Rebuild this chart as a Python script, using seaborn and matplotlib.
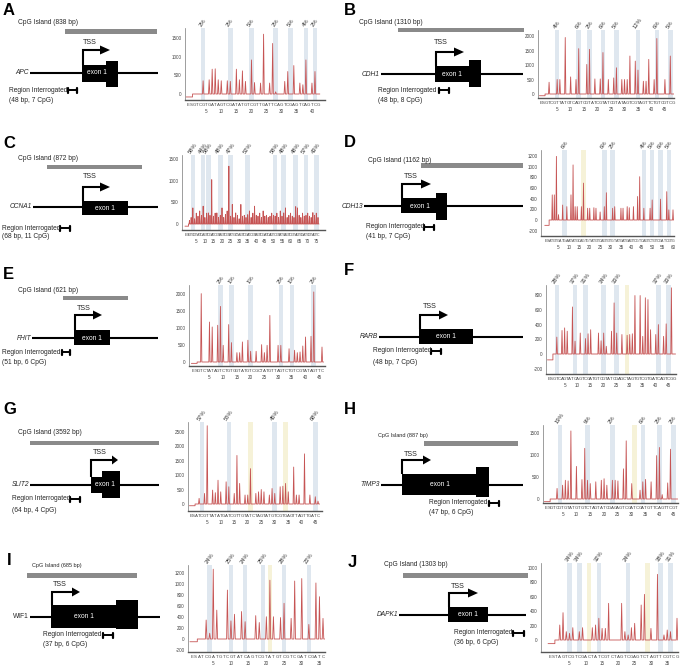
import numpy as np
import pandas as pd
import matplotlib
matplotlib.use("Agg")
import matplotlib.pyplot as plt
import matplotlib.transforms as mtrans
from matplotlib.patches import Rectangle, Polygon
import seaborn as sns

sns.set_style("white")
plt.rcParams["font.family"] = ["Liberation Sans", "DejaVu Sans"]

# ---------------- data ----------------
LETTERS = ["A", "B", "C", "D", "E", "F", "G", "H", "I", "J"]
GENES = ["APC", "CDH1", "CCNA1", "CDH13", "FHIT", "RARB", "SLIT2", "TIMP3", "WIF1", "DAPK1"]
GENE_ITALIC = [True, True, True, True, True, True, True, True, False, True]
CPG_BP = [838, 1310, 872, 1162, 621, None, 3592, 887, 685, 1303]
REGION_BP = [48, 48, 68, 41, 51, 48, 64, 47, 37, 36]
REGION_CPG = [7, 8, 11, 7, 6, 7, 4, 6, 6, 6]

A_SEQ = "ESGTCGTGAT" "AGTCGATATG" "TCGTTGATTC" "AGTCGAGTCA" "GTCG"
A_PEAKS = {5: 357, 7: 384, 8: 670, 9: 680, 10: 384, 11: 357, 13: 357, 14: 340, 16: 670,
           17: 384, 18: 625, 19: 340, 21: 920, 22: 310, 24: 295, 25: 1615, 27: 295,
           28: 1365, 29: 60, 32: 340, 33: 607, 35: 768, 37: 295, 38: 250, 39: 920,
           41: 295, 42: 607}
A_CPG = [5, 14, 21, 29, 34, 39, 42]
A_PCT = ["2%", "2%", "5%", "2%", "5%", "4%", "2%"]
A_YEL = []

B_SEQ = "ESGTCGTTAT" "GTCAGTCGTA" "TCGTATCGTA" "TAGTCGTAGT" "TCTGTCGTCG"
B_PEAKS = {3: 405, 6: 500, 7: 500, 9: 1950, 11: 590, 13: 500, 14: 1565, 17: 1020, 18: 1540,
           20: 520, 22: 520, 23: 1430, 25: 500, 27: 555, 28: 905, 30: 500, 31: 500, 32: 500,
           33: 1310, 35: 1135, 36: 825, 38: 440, 39: 440, 40: 1195, 42: 500, 43: 1915,
           46: 500, 48: 1310}
B_CPG = [6, 14, 18, 23, 28, 36, 43, 48]
B_PCT = ["4%", "6%", "2%", "6%", "5%", "12%", "6%", "5%"]
B_YEL = []

C_SEQ = "ESGTCGTATC" "AGTCGATCGT" "AGTCGTATGC" "TAGTCGATCG" "TAGTCGATCA" "GTCGTATCAG" "TCGTAGTCGA" "TCGTAGTC"
C_HEIGHTS = [0, 0, 80, 150, 370, 120, 250, 180, 300, 200,
             410, 150, 250, 255, 200, 1020, 180, 250, 255, 150,
             200, 370, 150, 220, 300, 1330, 180, 450, 150, 255,
             200, 120, 450, 180, 200, 150, 215, 300, 150, 250,
             410, 200, 180, 250, 150, 300, 180, 200, 150, 180,
             250, 200, 180, 250, 150, 300, 180, 255, 370, 150,
             200, 250, 180, 150, 400, 370, 200, 150, 250, 180,
             200, 250, 180, 150, 262, 200, 250, 150]
C_PEAKS = {i: h for i, h in enumerate(C_HEIGHTS) if h}
C_CPG = [4, 10, 13, 20, 26, 36, 52, 57, 64, 70, 76]
C_PCT = ["58%", "44%", "58%", "48%", "47%", "52%", "58%", "48%", "48%", "57%", "43%"]
C_YEL = []

D_SEQ = "ESATGTGATG" "AATATGCAGT" "GTATGTCAGT" "GTGTATGATG" "AGTCGTCAGT" "CTGTCGATCG" "TG"
D_PEAKS = {3: 470, 4: 470, 5: 1190, 6: 100, 8: 280, 10: 250, 12: 470, 13: 1030, 14: 250,
           15: 250, 17: 250, 18: 690, 20: 220, 21: 220, 23: 230, 24: 220, 26: 150, 28: 250,
           29: 510, 32: 220, 33: 250, 36: 220, 37: 220, 39: 250, 40: 230, 42: 250, 44: 440,
           45: 810, 47: 220, 50: 220, 51: 375, 55: 390, 58: 530, 59: 190, 61: 190}
D_CPG = [9, 28, 32, 47, 51, 55, 59]
D_PCT = ["6%", "6%", "2%", "4%", "5%", "6%", "5%"]
D_YEL = [18]

E_SEQ = "ESGTCTATAG" "TCTGTGGTAT" "GTCGCTATGT" "TAGTCTGTCG" "TATAGTTC"
E_PEAKS = {3: 2010, 6: 1175, 7: 1030, 9: 1080, 10: 1635, 11: 490, 13: 1100, 14: 570, 16: 275,
           17: 275, 18: 590, 20: 640, 21: 315, 23: 315, 25: 510, 26: 275, 27: 490, 28: 1370,
           31: 490, 32: 490, 35: 390, 37: 345, 38: 275, 39: 295, 40: 470, 41: 735, 43: 755,
           44: 2060, 47: 440}
E_CPG = [10, 14, 21, 32, 36, 44]
E_PCT = ["2%", "1%", "1%", "2%", "1%", "2%"]
E_YEL = []

F_SEQ = "ESGTCAGTAT" "CAGTCGATGT" "CGTATCGAGC" "TAGTGTCGTG" "ATCAGTCGG"
F_PEAKS = {3: 230, 5: 320, 6: 355, 7: 310, 9: 640, 10: 175, 12: 285, 14: 210, 15: 275,
           16: 330, 19: 285, 20: 180, 21: 285, 22: 105, 24: 310, 25: 695, 26: 285, 28: 265,
           30: 255, 31: 265, 32: 275, 33: 795, 35: 795, 36: 240, 37: 765, 38: 740, 39: 330,
           41: 265, 42: 400, 44: 240, 45: 410, 47: 900}
F_CPG = [3, 10, 14, 21, 26, 42, 46]
F_PCT = ["28%", "37%", "31%", "34%", "33%", "37%", "33%"]
F_YEL = [30]

G_SEQ = "ESATCGTTAT" "ATGATCGTTG" "TATCTAGTAT" "GTCGTGAGTT" "AGTTGATC"
G_PEAKS = {3: 195, 5: 365, 6: 2700, 8: 480, 9: 390, 10: 820, 11: 420, 13: 765, 14: 595,
           16: 365, 17: 1675, 18: 710, 20: 310, 21: 310, 22: 1220, 24: 365, 25: 420, 26: 500,
           27: 420, 29: 310, 30: 535, 31: 365, 33: 595, 34: 615, 35: 710, 36: 420, 38: 1275,
           39: 310, 40: 310, 42: 1730, 44: 310, 46: 250, 47: 100}
G_CPG = [4, 14, 31, 46]
G_PCT = ["57%", "55%", "45%", "68%"]
G_YEL = [22, 35]

H_SEQ = "ESGTCGTGTA" "TGTGTCTAGT" "ATCGAGAGTC" "GATCGATGTT" "CAGTTCGT"
H_PEAKS = {4: 240, 6: 313, 7: 425, 8: 410, 9: 1545, 11: 740, 13: 440, 14: 1150, 15: 425,
           16: 350, 18: 390, 20: 425, 21: 460, 22: 313, 24: 425, 25: 425, 26: 410, 28: 685,
           29: 1320, 31: 350, 34: 200, 35: 390, 36: 445, 38: 390, 40: 985, 41: 1170, 42: 100,
           44: 365, 45: 1130}
H_CPG = [5, 15, 24, 35, 41, 46]
H_PCT = ["19%", "9%", "2%", "6%", "2%", "2%"]
H_YEL = [32]

I_SEQ = "ESATCGATGT" "CGTATCAGTC" "GTATGTCGTC" "GATCGATC"
I_PEAKS = {4: 345, 5: 105, 6: 1270, 7: 525, 10: 890, 11: 330, 12: 450, 14: 500, 15: 315,
           18: 425, 19: 300, 21: 405, 22: 1070, 23: 405, 25: 390, 26: 650, 28: 375, 29: 1055,
           31: 1100, 33: 265, 35: 1020, 36: 770, 37: 375}
I_CPG = [5, 11, 15, 20, 26, 33]
I_PCT = ["24%", "25%", "24%", "25%", "28%", "22%"]
I_YEL = [22]

J_SEQ = "ESTAGTCGTC" "GACTATCGTC" "TAGTCGAGTC" "TAGTTCGTCG"
J_PEAKS = {3: 207, 4: 377, 5: 115, 6: 92, 7: 170, 9: 115, 10: 170, 13: 170, 14: 207, 15: 300,
           16: 160, 17: 160, 18: 506, 22: 506, 23: 115, 24: 70, 25: 170, 26: 230, 28: 483,
           29: 630, 31: 160, 33: 906, 35: 70, 36: 138, 37: 115, 39: 300}
J_CPG = [6, 9, 15, 24, 34, 37]
J_PCT = ["34%", "34%", "32%", "24%", "38%", "31%"]
J_YEL = [12, 30]

SEQS = [A_SEQ, B_SEQ, C_SEQ, D_SEQ, E_SEQ, F_SEQ, G_SEQ, H_SEQ, I_SEQ, J_SEQ]
PEAKS = [A_PEAKS, B_PEAKS, C_PEAKS, D_PEAKS, E_PEAKS, F_PEAKS, G_PEAKS, H_PEAKS, I_PEAKS, J_PEAKS]
CPGS = [A_CPG, B_CPG, C_CPG, D_CPG, E_CPG, F_CPG, G_CPG, H_CPG, I_CPG, J_CPG]
PCTS = [A_PCT, B_PCT, C_PCT, D_PCT, E_PCT, F_PCT, G_PCT, H_PCT, I_PCT, J_PCT]
YELS = [A_YEL, B_YEL, C_YEL, D_YEL, E_YEL, F_YEL, G_YEL, H_YEL, I_YEL, J_YEL]
YTICKS = [[0, 500, 1000, 1500], [0, 500, 1000, 1500, 2000], [0, 500, 1000, 1500],
          [-200, 0, 200, 400, 600, 800, 1000, 1200], [0, 500, 1000, 1500, 2000],
          [-200, 0, 200, 400, 600, 800], [0, 500, 1000, 1500, 2000, 2500],
          [0, 500, 1000, 1500], [-200, 0, 200, 400, 600, 800, 1000, 1200],
          [0, 200, 400, 600, 800, 1000]]
BASE0 = [-80, -60, -50, -100, -40, -80, -60, -60, -50, -50]

# ---------------- layout (pixels) ----------------
W, H = 682, 671
# pyrogram axes: box x0,x1,y0,y1 ; first/last dispensation px ; zero px ; units per px
PYRO = [
    dict(box=(185, 325, 28, 100), xf=188, xl=318, yz=94, s=27.0),
    dict(box=(538, 674, 30, 98), xf=541, xl=673, yz=94, s=34.5),
    dict(box=(182, 325, 155, 230), xf=186, xl=318, yz=224, s=23.0),
    dict(box=(541, 674, 150, 236), xf=546, xl=673, yz=220, s=18.7),
    dict(box=(189, 325, 285, 366), xf=193, xl=322, yz=362, s=29.4),
    dict(box=(546, 676, 285, 374), xf=549, xl=674, yz=354, s=13.6),
    dict(box=(188, 322, 422, 511), xf=191, xl=318, yz=504, s=34.5),
    dict(box=(543, 678, 425, 503), xf=546, xl=676, yz=499, s=22.7),
    dict(box=(188, 325, 565, 652), xf=192, xl=323, yz=639, s=18.2),
    dict(box=(541, 678, 563, 652), xf=550, xl=677, yz=640, s=13.8),
]
DIAG = [
    dict(letter=(3, 3), cpg=(18, 23), bar=(65, 157, 29, 34), tss=(83, 42), vx=83, top=50, hx=100, head=110,
         line=(30, 158, 73), exon=(82, 107, 65, 82), tall=(106, 118, 61, 87), extext=(97, 73),
         region=(9, 90), marker=(68, 77), count=(9, 100), cpgfs=4.8),
    dict(letter=(344, 3), cpg=(359, 22), bar=(398, 524, 28, 32), tss=(434, 43), vx=436, top=52, hx=454, head=464,
         line=(381, 523, 74), exon=(435, 469, 66, 82), tall=(469, 481, 60, 87), extext=(452, 74),
         region=(378, 90), marker=(439, 449), count=(378, 100), cpgfs=4.8),
    dict(letter=(3, 136), cpg=(18, 158), bar=(47, 142, 165, 169), tss=(83, 177), vx=83, top=187, hx=100, head=110,
         line=(33, 158, 207), exon=(82, 128, 201, 215), tall=None, extext=(105, 208),
         region=(2, 228), marker=(60, 70), count=(2, 237), cpgfs=4.8),
    dict(letter=(344, 135), cpg=(368, 160), bar=(421, 523, 163, 168), tss=(404, 177), vx=402, top=184, hx=421, head=431,
         line=(364, 523, 206), exon=(401, 438, 198, 213), tall=(436, 447, 193, 220), extext=(420, 206),
         region=(366, 227), marker=(424, 434), count=(366, 237), cpgfs=4.8),
    dict(letter=(3, 267), cpg=(18, 290), bar=(63, 128, 296, 300), tss=(77, 308), vx=75, top=315, hx=93, head=102,
         line=(32, 158, 338), exon=(74, 110, 330, 345), tall=None, extext=(92, 338),
         region=(2, 352), marker=(62, 70), count=(2, 362), cpgfs=4.8),
    dict(letter=(344, 263), cpg=None, bar=None, tss=(423, 307), vx=420, top=315, hx=439, head=448,
         line=(379, 523, 337), exon=(419, 473, 329, 344), tall=None, extext=(446, 337),
         region=(373, 351), marker=(431, 441), count=(373, 362), cpgfs=4.8),
    dict(letter=(3, 402), cpg=(18, 432), bar=(30, 159, 441, 445), tss=(93, 453), vx=91, top=460, hx=112, head=118,
         line=(30, 159, 485), exon=(91, 103, 477, 493), tall=(102, 120, 471, 498), extext=(105, 485),
         region=(12, 499), marker=(70, 80), count=(12, 510), cpgfs=4.8),
    dict(letter=(344, 402), cpg=(378, 436), bar=(424, 518, 441, 446), tss=(404, 455), vx=402, top=460, hx=423, head=431,
         line=(381, 523, 485), exon=(402, 478, 474, 495), tall=(476, 489, 467, 497), extext=(440, 485),
         region=(429, 503), marker=(489, 499), count=(429, 513), cpgfs=4.0),
    dict(letter=(7, 553), cpg=(32, 565), bar=(27, 137, 573, 578), tss=(53, 585), vx=52, top=592, hx=72, head=80,
         line=(30, 160, 617), exon=(51, 117, 605, 628), tall=(116, 138, 600, 629), extext=(84, 617),
         region=(43, 635), marker=(103, 113), count=(43, 645), cpgfs=4.0),
    dict(letter=(348, 555), cpg=(384, 565), bar=(403, 528, 573, 578), tss=(451, 587), vx=449, top=593, hx=468, head=478,
         line=(399, 526, 615), exon=(448, 488, 607, 622), tall=None, extext=(468, 615),
         region=(454, 633), marker=(513, 524), count=(454, 643), cpgfs=4.8),
]

RED = "#c65454"
BAND = "#dfe7ef"
YEL = "#f6f2d8"
FS = 4.8

fig = plt.figure(figsize=(W / 100, H / 100), dpi=100)
fig.patch.set_facecolor("white")
ov = fig.add_axes([0, 0, 1, 1])
ov.set_xlim(0, W)
ov.set_ylim(H, 0)
ov.axis("off")

# ---------------- gene diagrams ----------------
for k, d in enumerate(DIAG):
    ov.text(d["letter"][0], d["letter"][1], LETTERS[k], fontsize=12, fontweight="bold",
            ha="left", va="top", color="black")
    if d["cpg"] is not None:
        ov.text(d["cpg"][0], d["cpg"][1], f"CpG Island ({CPG_BP[k]} bp)", fontsize=d["cpgfs"],
                ha="left", va="center")
        bx0, bx1, by0, by1 = d["bar"]
        ov.add_patch(Rectangle((bx0, by0), bx1 - bx0, by1 - by0, color="#8a8a8a", lw=0))
    lx0, lx1, ly = d["line"]
    ov.plot([lx0, lx1], [ly, ly], color="black", lw=1.5, solid_capstyle="butt")
    ov.text(lx0 - 1, ly, GENES[k], fontsize=FS, ha="right", va="center",
            style="italic" if GENE_ITALIC[k] else "normal")
    ex0, ex1, ey0, ey1 = d["exon"]
    ov.add_patch(Rectangle((ex0, ey0), ex1 - ex0, ey1 - ey0, color="black", lw=0))
    if d["tall"] is not None:
        tx0, tx1, ty0, ty1 = d["tall"]
        ov.add_patch(Rectangle((tx0, ty0), tx1 - tx0, ty1 - ty0, color="black", lw=0))
    ov.text(d["extext"][0], d["extext"][1], "exon 1", fontsize=FS, color="white",
            ha="center", va="center")
    # TSS arrow
    ov.plot([d["vx"], d["vx"], d["hx"]], [ey0, d["top"], d["top"]], color="black", lw=1.5,
            solid_joinstyle="miter", solid_capstyle="butt")
    ov.add_patch(Polygon([(d["hx"], d["top"] - 4.5), (d["hx"], d["top"] + 4.5), (d["head"], d["top"])],
                         closed=True, color="black", lw=0))
    ov.text(d["tss"][0], d["tss"][1], "TSS", fontsize=5.2, ha="left", va="center")
    # region interrogated
    rx, ry = d["region"]
    ov.text(rx, ry, "Region Interrogated", fontsize=FS, ha="left", va="center")
    mx0, mx1 = d["marker"]
    ov.plot([mx0, mx1], [ry, ry], color="black", lw=1.4)
    ov.plot([mx0, mx0], [ry - 2.5, ry + 2.5], color="black", lw=1.6)
    ov.plot([mx1, mx1], [ry - 2.5, ry + 2.5], color="black", lw=1.6)
    ov.text(d["count"][0], d["count"][1], f"({REGION_BP[k]} bp, {REGION_CPG[k]} CpG)",
            fontsize=FS, ha="left", va="center")

# ---------------- pyrograms ----------------
for k, p in enumerate(PYRO):
    seq = SEQS[k]
    n = len(seq)
    peaks = PEAKS[k]
    x0, x1, y0, y1 = p["box"]
    ax = fig.add_axes([x0 / W, 1 - y1 / H, (x1 - x0) / W, (y1 - y0) / H])
    dx = (p["xl"] - p["xf"]) / (n - 1)
    ax.set_xlim(-(p["xf"] - x0) / dx, (n - 1) + (x1 - p["xl"]) / dx)
    ax.set_ylim(-(y1 - p["yz"]) * p["s"], (p["yz"] - y0) * p["s"])
    ax.set_facecolor("white")

    half = 2.3 / dx
    for i in YELS[k]:
        ax.axvspan(i - half, i + half, color=YEL, lw=0, zorder=0)
    blend = mtrans.blended_transform_factory(ax.transData, ax.transAxes)
    for i, pc in zip(CPGS[k], PCTS[k]):
        ax.axvspan(i - half, i + half, color=BAND, lw=0, zorder=0)
        ax.text(i, 1.01, pc, transform=blend, rotation=55, fontsize=4.2, ha="center",
                va="bottom", color="#333333", rotation_mode="default")

    xs, ys = [-0.6, 1.5, 1.5], [BASE0[k], BASE0[k], 0]
    w = 0.22
    for i in range(2, n):
        h = peaks.get(i, 0)
        if h:
            xs += [i - w, i, i + w]
            ys += [0, h, 0]
    xs.append(n - 0.4)
    ys.append(0)
    df = pd.DataFrame({"x": xs, "y": ys})
    sns.lineplot(data=df, x="x", y="y", sort=False, estimator=None, ax=ax,
                 color=RED, lw=0.6, zorder=3)

    ax.set_xlabel("")
    ax.set_ylabel("")
    ax.set_yticks(YTICKS[k])
    ax.set_yticklabels([str(v) for v in YTICKS[k]])
    ax.set_xticks(range(n))
    ax.set_xticklabels(list(seq), fontsize=2.6 if n > 60 else 3.2)
    ax.tick_params(axis="y", length=1.5, width=0.4, pad=0.8, labelsize=3.3, colors="#444444")
    ax.tick_params(axis="x", length=1.6, width=0.3, pad=0.8, colors="#444444")
    for side in ["top", "right"]:
        ax.spines[side].set_visible(False)
    ax.spines["left"].set_color("#777777")
    ax.spines["left"].set_linewidth(0.5)
    ax.spines["bottom"].set_color("#555555")
    ax.spines["bottom"].set_linewidth(1.0)
    for num in range(5, n, 5):
        idx = num + 1
        if idx < n:
            ax.annotate(str(num), xy=(idx, 0), xycoords=blend, xytext=(0, -6.5),
                        textcoords="offset points", ha="center", va="top", fontsize=3.3,
                        color="#444444", annotation_clip=False)

fig.savefig("out.png", dpi=100, facecolor="white")
